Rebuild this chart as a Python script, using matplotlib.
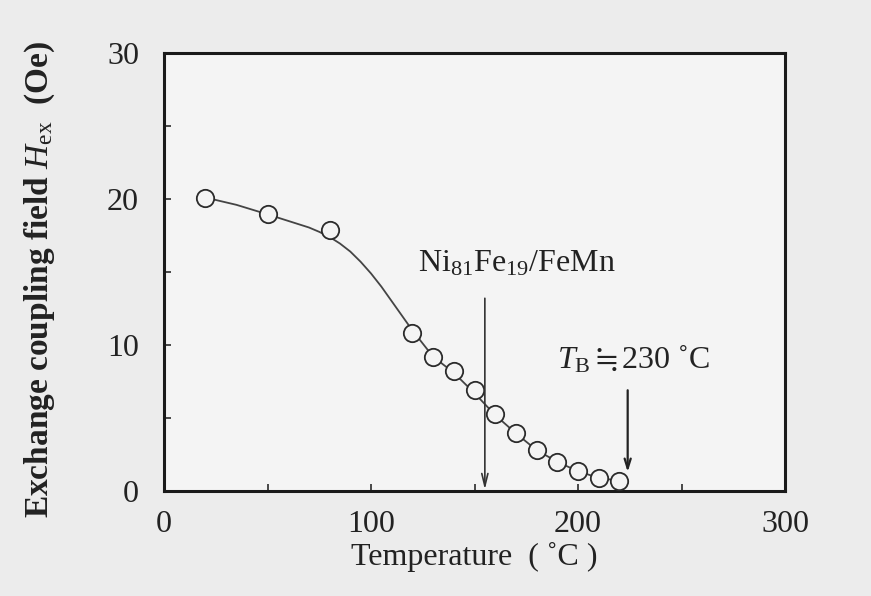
import matplotlib
matplotlib.use("Agg")
import matplotlib.pyplot as plt
from matplotlib.ticker import MultipleLocator

plt.rcParams['font.family'] = ['Liberation Serif', 'DejaVu Serif']
plt.rcParams['mathtext.fontset'] = 'custom'
plt.rcParams['mathtext.rm'] = 'Liberation Serif'
plt.rcParams['mathtext.it'] = 'Liberation Serif:italic'
plt.rcParams['mathtext.bf'] = 'Liberation Serif:bold'

# Measured points
temp = [20, 50, 80, 120, 130, 140, 150, 160, 170, 180, 190, 200, 210, 220]
hex_field = [20.1, 19.0, 17.9, 10.8, 9.2, 8.25, 6.9, 5.3, 3.95, 2.8, 2.0, 1.35, 0.9, 0.7]

# Guide curve drawn through the data
curve_t = [20, 35, 50, 60, 70, 75, 80, 85, 90, 95, 100, 105, 110, 115, 120,
           130, 140, 150, 160, 170, 180, 190, 200, 210, 220]
curve_h = [20.1, 19.6, 18.95, 18.5, 18.05, 17.75, 17.4, 16.95, 16.4, 15.7, 14.9,
           14.0, 13.0, 12.0, 11.0, 9.2, 8.1, 6.7, 5.2, 3.95, 2.8, 2.0, 1.35, 0.9, 0.7]

x_ticks = [0, 100, 200, 300]
y_ticks = [0, 10, 20, 30]

ink = '#2b2b2b'

fig = plt.figure(figsize=(8.71, 5.96), dpi=100, facecolor='#ececec')
ax = fig.add_axes([164/871, 1-491/596, (785-164)/871, (491-53)/596])
ax.set_facecolor('#f4f4f4')

ax.plot(curve_t, curve_h, color='#444444', lw=1.3, zorder=2)
ax.plot(temp, hex_field, linestyle='none', marker='o', markersize=12.5,
        markerfacecolor='#f4f4f4', markeredgecolor=ink, markeredgewidth=1.3, zorder=3)

ax.set_xlim(0, 300)
ax.set_ylim(0, 30)
ax.set_xticks(x_ticks)
ax.set_yticks(y_ticks)
ax.xaxis.set_minor_locator(MultipleLocator(50))
ax.yaxis.set_minor_locator(MultipleLocator(5))
ax.tick_params(which='both', direction='in', length=5, width=1.2, color=ink,
               top=False, right=False)
ax.tick_params(axis='x', which='major', labelsize=23, pad=14, labelcolor='#222222')
ax.tick_params(axis='y', which='major', labelsize=23, pad=18, labelcolor='#222222')
for s in ax.spines.values():
    s.set_linewidth(2.2)
    s.set_color('#1a1a1a')

ax.set_xlabel('Temperature  ( ˚C )', fontsize=23, labelpad=2, color='#222222')
fig.text(40/871, 1-280/596, r'Exchange coupling field $H_{\mathrm{ex}}$  (Oe)',
         rotation=90, ha='center', va='center', fontsize=24, fontweight='bold',
         color='#222222')

ax.annotate('', xy=(155, 0.1), xytext=(155, 13.2),
            arrowprops=dict(arrowstyle='->,head_length=0.9,head_width=0.22',
                            lw=1.2, color='#333333', shrinkA=0, shrinkB=0))
ax.annotate('', xy=(224, 1.3), xytext=(224, 6.9),
            arrowprops=dict(arrowstyle='->,head_length=0.7,head_width=0.22',
                            lw=1.6, color='#222222', shrinkA=0, shrinkB=0))

ax.text(122.5, 15.0, r'Ni$_{81}$Fe$_{19}$/FeMn', fontsize=23, ha='left',
        va='baseline', color='#222222')
ax.text(190, 8.4, r'$T_{\mathrm{B}}\fallingdotseq$230 ˚C', fontsize=23, ha='left',
        va='baseline', color='#222222')

fig.savefig('out.png', dpi=100, facecolor=fig.get_facecolor())
